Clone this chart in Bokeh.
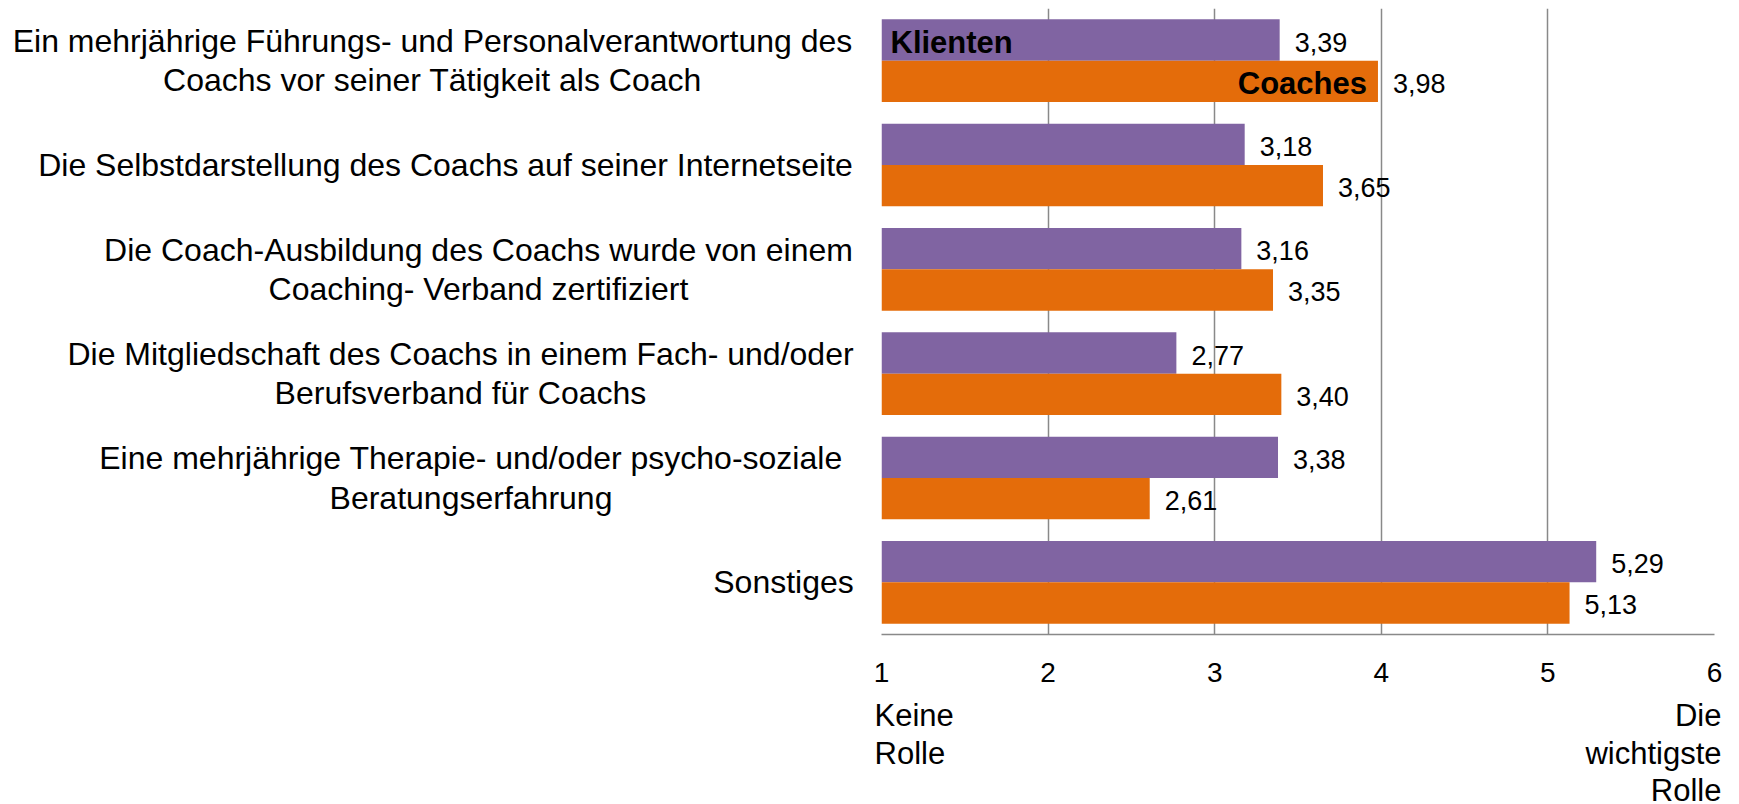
from bokeh.plotting import figure
from bokeh.layouts import row, column
from bokeh.models import ColumnDataSource, FactorRange, Range1d, FixedTicker
from bokeh.transform import dodge
from bokeh.core.properties import value
from bokeh.embed import file_html
from bokeh.resources import INLINE

# ---------------- data ----------------
categories = [
    "Ein mehrjährige Führungs- und Personalverantwortung des\nCoachs vor seiner Tätigkeit als Coach",
    "Die Selbstdarstellung des Coachs auf seiner Internetseite",
    "Die Coach-Ausbildung des Coachs wurde von einem\nCoaching- Verband zertifiziert",
    "Die Mitgliedschaft des Coachs in einem Fach- und/oder\nBerufsverband für Coachs",
    "Eine mehrjährige Therapie- und/oder psycho-soziale\nBeratungserfahrung",
    "Sonstiges",
]
klienten = [3.39, 3.18, 3.16, 2.77, 3.38, 5.29]
coaches = [3.98, 3.65, 3.35, 3.40, 2.61, 5.13]
series_names = ["Klienten", "Coaches"]
tick_values = [1, 2, 3, 4, 5, 6]
tick_labels = ["1", "2", "3", "4", "5", "6"]
low_end_lines = ["Keine", "Rolle"]
high_end_lines = ["Die", "wichtigste", "Rolle"]

# ---------------- style / layout ----------------
PURPLE = "#8064A2"
ORANGE = "#E46C0A"
GRID = "#898989"
FONT = "Liberation Sans"

W, H = 1739, 804
FRAME_L = 881         # page x of the plot frame's left edge
LAB_W = 861           # width of the category-label column
TOP_H = 694           # height of chart row
MB_T, MB_B, MB_R = 8, 60, 25
MAIN_W = W - LAB_W
MB_L = FRAME_L - LAB_W
UNIT = (MAIN_W - MB_L - MB_R) / 5.0   # px per scale unit

# centre x (page px) of each category label block
label_centers = [432, 445, 478, 460, 470.5, 783]
# caption line positions (caption panel px)
low_lines_y = [714.5, 753]
high_lines_y = [714.5, 753, 789.5]

fmt = lambda v: f"{v:.2f}".replace(".", ",")

src = ColumnDataSource(dict(
    cat=categories,
    klienten=klienten,
    coaches=coaches,
    k_lab=[fmt(v) for v in klienten],
    c_lab=[fmt(v) for v in coaches],
    cx=label_centers,
))

yr = FactorRange(factors=list(reversed(categories)), range_padding=0)

# ---------- main chart ----------
p = figure(
    title=None,
    width=MAIN_W, height=TOP_H,
    y_range=yr, x_range=Range1d(1, 6),
    output_backend="svg", toolbar_location=None, y_axis_location=None,
    min_border_left=MB_L, min_border_right=MB_R,
    min_border_top=MB_T, min_border_bottom=MB_B,
    outline_line_color=None,
)

OFF = 0.198
BH = 0.396
p.hbar(y=dodge("cat", OFF, range=yr), left=1, right="klienten", height=BH,
       fill_color=PURPLE, line_color=None, source=src)
p.hbar(y=dodge("cat", -OFF, range=yr), left=1, right="coaches", height=BH,
       fill_color=ORANGE, line_color=None, source=src)

val_style = dict(text_font=value(FONT), text_font_size=value("27px"),
                 text_color="black", text_baseline="middle", text_align="left",
                 x_offset=15, y_offset=2)
p.text(x="klienten", y=dodge("cat", OFF, range=yr), text="k_lab", source=src, **val_style)
p.text(x="coaches", y=dodge("cat", -OFF, range=yr), text="c_lab", source=src, **val_style)

# series names inside first group's bars
ser_k = ColumnDataSource(dict(x=[1], cat=[categories[0]], t=[series_names[0]]))
ser_c = ColumnDataSource(dict(x=[coaches[0]], cat=[categories[0]], t=[series_names[1]]))
ser_style = dict(text_font=value(FONT), text_font_style="bold", text_font_size=value("31px"),
                 text_color="black", text_baseline="middle", y_offset=2)
p.text(x="x", y=dodge("cat", OFF, range=yr), text="t", source=ser_k,
       text_align="left", x_offset=9, **ser_style)
p.text(x="x", y=dodge("cat", -OFF, range=yr), text="t", source=ser_c,
       text_align="right", x_offset=-11, **ser_style)

p.ygrid.grid_line_color = None
p.xgrid.ticker = FixedTicker(ticks=tick_values)
p.xgrid.grid_line_color = GRID
p.xgrid.grid_line_width = 1.5

ax = p.xaxis[0]
ax.ticker = FixedTicker(ticks=tick_values)
ax.major_label_overrides = {t: l for t, l in zip(tick_values, tick_labels)}
ax.axis_line_color = GRID
ax.axis_line_width = 1.5
ax.major_tick_line_color = None
ax.minor_tick_line_color = None
ax.major_label_standoff = 22
ax.major_label_text_font = FONT
ax.major_label_text_font_size = "28px"
ax.major_label_text_color = "black"

# ---------- category label column (shares the y scale) ----------
lab = figure(
    title=None,
    width=LAB_W, height=TOP_H,
    y_range=yr, x_range=Range1d(0, LAB_W),
    output_backend="svg", toolbar_location=None,
    x_axis_location=None, y_axis_location=None,
    min_border_left=0, min_border_right=0,
    min_border_top=MB_T, min_border_bottom=MB_B,
    outline_line_color=None,
)
lab.grid.grid_line_color = None
lab.text(x="cx", y="cat", text="cat", source=src,
         text_align="center", text_baseline="middle",
         text_font=value(FONT), text_font_size=value("32px"), text_color="black",
         text_line_height=1.1)

# ---------- captions below the scale (same x scale, extended to full width) ----------
cap = figure(
    title=None,
    width=W, height=H - TOP_H,
    x_range=Range1d(1 - FRAME_L / UNIT, 6 + MB_R / UNIT),
    y_range=Range1d(H, TOP_H),
    output_backend="svg", toolbar_location=None,
    x_axis_location=None, y_axis_location=None,
    min_border_left=0, min_border_right=0, min_border_top=0, min_border_bottom=0,
    outline_line_color=None,
)
cap.grid.grid_line_color = None
cap_style = dict(text_font=value(FONT), text_font_size=value("31px"),
                 text_color="black", text_baseline="alphabetic")
low_src = ColumnDataSource(dict(x=[tick_values[0]] * len(low_end_lines),
                                y=low_lines_y, t=low_end_lines))
high_src = ColumnDataSource(dict(x=[tick_values[-1]] * len(high_end_lines),
                                 y=high_lines_y, t=high_end_lines))
cap.text(x="x", y="y", text="t", source=low_src, text_align="left", x_offset=-7, **cap_style)
cap.text(x="x", y="y", text="t", source=high_src, text_align="right", x_offset=7, **cap_style)

layout = column(row(lab, p), cap)
open("out.html", "w").write(file_html(layout, INLINE))
